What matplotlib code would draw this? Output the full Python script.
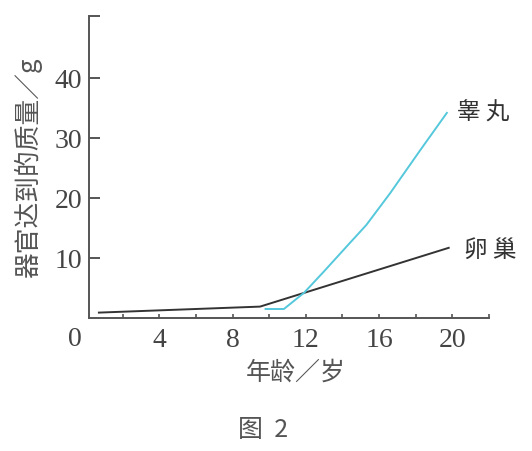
import matplotlib
matplotlib.use("Agg")
import matplotlib.pyplot as plt

plt.rcParams['font.family'] = ['Noto Sans CJK SC', 'DejaVu Sans']

# Data
ovary_age = [0.7, 9.5, 19.8]
ovary_mass = [0.9, 1.9, 11.7]
testis_age = [9.8, 10.8, 11.9, 13.0, 14.4, 15.3, 16.6, 18.25, 19.7]
testis_mass = [1.5, 1.5, 4.2, 7.8, 12.5, 15.5, 20.8, 28.0, 34.2]

y_ticks = [10, 20, 30, 40]
x_ticks = [2, 4, 6, 8, 10, 12, 14, 16, 18, 20, 22]
x_labels = ['', '4', '', '8', '', '12', '', '16', '', '20', '']
xlabel = '年龄／岁'
ylabel = '器官达到的质量／g'
caption = '图  2'

axis_col = '#555555'
text_col = '#444444'
serif = ['Liberation Serif', 'DejaVu Serif']

fig = plt.figure(figsize=(5.32, 4.51), dpi=100)
W, H = 532, 451
ax = fig.add_axes([89 / W, (H - 318) / H, (489 - 89) / W, (318 - 15.7) / H])

ax.plot(ovary_age, ovary_mass, color='#333333', lw=1.4)
ax.plot(testis_age, testis_mass, color='#55c8dc', lw=1.4)

ax.set_xlim(0.16, 22)
ax.set_ylim(0, 50.4)

for s in ['top', 'right']:
    ax.spines[s].set_visible(False)
for s in ['left', 'bottom']:
    ax.spines[s].set_color(axis_col)
    ax.spines[s].set_linewidth(1.4)

ax.set_yticks(y_ticks + [50.4])
ax.set_yticklabels([str(v) for v in y_ticks] + [''])
ax.set_xticks(x_ticks)
ax.set_xticklabels(x_labels)

ax.tick_params(axis='y', direction='in', length=8, width=1.4, color=axis_col,
               pad=5, labelsize=20, labelcolor=text_col)
ax.tick_params(axis='x', direction='in', length=3, width=1.2, color=axis_col,
               pad=7, labelsize=20, labelcolor=text_col)
for lab in ax.get_xticklabels() + ax.get_yticklabels():
    lab.set_family(serif)

# corner "0"
fig.text(75 / W, 1 - 340 / H, '0', ha='center', va='center', fontsize=20,
         color=text_col, family=serif)

# series labels
fig.text(483 / W, 1 - 113 / H, '睾 丸', ha='center', va='center', fontsize=17, color='#333333')
fig.text(490 / W, 1 - 250 / H, '卵 巢', ha='center', va='center', fontsize=17, color='#333333')

# axis labels
fig.text(28 / W, 1 - 168 / H, ylabel, ha='center', va='center', rotation=90,
         fontsize=18.5, color='#555555')
fig.text(296 / W, 1 - 373 / H, xlabel, ha='center', va='center', fontsize=18, color='#555555')
fig.text(263 / W, 1 - 430 / H, caption, ha='center', va='center', fontsize=18, color='#555555')

fig.savefig('out.png', dpi=100)
